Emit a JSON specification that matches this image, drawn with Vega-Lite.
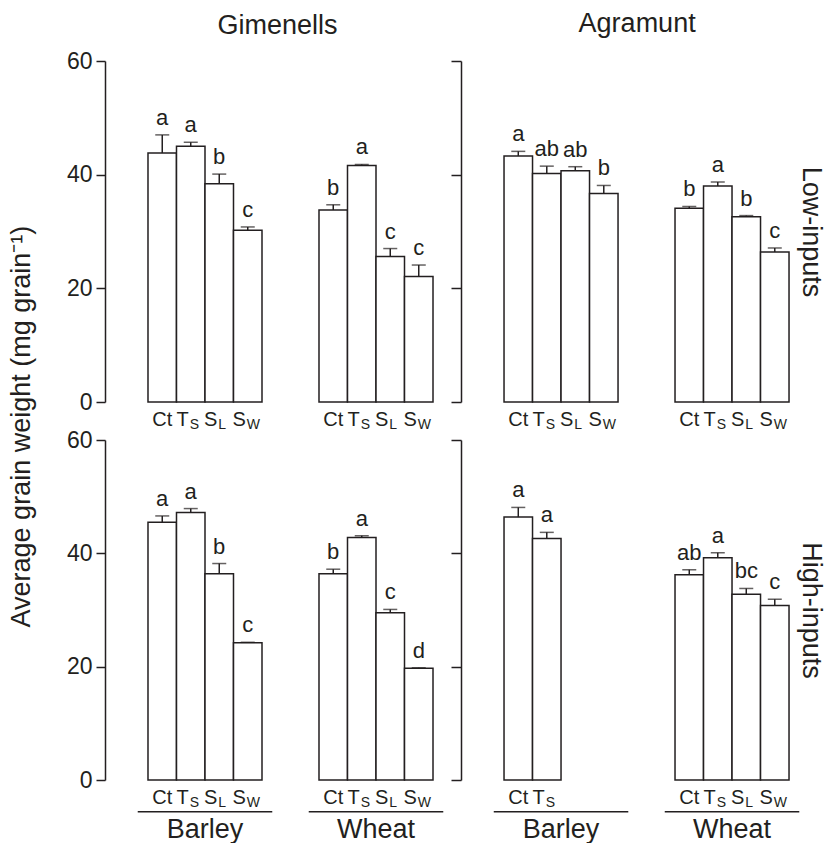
{
  "$schema": "https://vega.github.io/schema/vega-lite/v6.json",
  "padding": {"left": 8, "top": 10, "right": 4, "bottom": 0},
  "config": {
    "view": {"stroke": null},
    "font": "Liberation Sans",
    "axis": {"domainColor": "#231f20", "tickColor": "#231f20", "labelColor": "#231f20", "grid": false, "domainWidth": 1.5, "tickWidth": 1.5, "labelFont": "Liberation Sans"},
    "text": {"color": "#231f20", "font": "Liberation Sans"},
    "title": {"color": "#231f20", "fontWeight": "normal", "fontSize": 27, "font": "Liberation Sans"}
  },
  "title": {"text": "Average grain weight (mg grain⁻¹)", "orient": "left", "anchor": "middle", "offset": 30},
  "data": {"values": [
    {"site": "Gimenells", "input": "Low", "crop": "Barley", "trt": "Ct", "lab": "Ct", "sub": "", "mean": 43.8, "err": 47.0, "letter": "a"},
    {"site": "Gimenells", "input": "Low", "crop": "Barley", "trt": "TS", "lab": "T", "sub": "S", "mean": 45.0, "err": 45.7, "letter": "a"},
    {"site": "Gimenells", "input": "Low", "crop": "Barley", "trt": "SL", "lab": "S", "sub": "L", "mean": 38.4, "err": 40.1, "letter": "b"},
    {"site": "Gimenells", "input": "Low", "crop": "Barley", "trt": "SW", "lab": "S", "sub": "W", "mean": 30.2, "err": 30.8, "letter": "c"},
    {"site": "Gimenells", "input": "Low", "crop": "Wheat", "trt": "Ct", "lab": "Ct", "sub": "", "mean": 33.8, "err": 34.7, "letter": "b"},
    {"site": "Gimenells", "input": "Low", "crop": "Wheat", "trt": "TS", "lab": "T", "sub": "S", "mean": 41.6, "err": 41.8, "letter": "a"},
    {"site": "Gimenells", "input": "Low", "crop": "Wheat", "trt": "SL", "lab": "S", "sub": "L", "mean": 25.6, "err": 27.0, "letter": "c"},
    {"site": "Gimenells", "input": "Low", "crop": "Wheat", "trt": "SW", "lab": "S", "sub": "W", "mean": 22.1, "err": 24.1, "letter": "c"},
    {"site": "Agramunt", "input": "Low", "crop": "Barley", "trt": "Ct", "lab": "Ct", "sub": "", "mean": 43.3, "err": 44.1, "letter": "a"},
    {"site": "Agramunt", "input": "Low", "crop": "Barley", "trt": "TS", "lab": "T", "sub": "S", "mean": 40.2, "err": 41.5, "letter": "ab"},
    {"site": "Agramunt", "input": "Low", "crop": "Barley", "trt": "SL", "lab": "S", "sub": "L", "mean": 40.7, "err": 41.4, "letter": "ab"},
    {"site": "Agramunt", "input": "Low", "crop": "Barley", "trt": "SW", "lab": "S", "sub": "W", "mean": 36.7, "err": 38.1, "letter": "b"},
    {"site": "Agramunt", "input": "Low", "crop": "Wheat", "trt": "Ct", "lab": "Ct", "sub": "", "mean": 34.1, "err": 34.4, "letter": "b"},
    {"site": "Agramunt", "input": "Low", "crop": "Wheat", "trt": "TS", "lab": "T", "sub": "S", "mean": 38.0, "err": 38.7, "letter": "a"},
    {"site": "Agramunt", "input": "Low", "crop": "Wheat", "trt": "SL", "lab": "S", "sub": "L", "mean": 32.6, "err": 32.8, "letter": "b"},
    {"site": "Agramunt", "input": "Low", "crop": "Wheat", "trt": "SW", "lab": "S", "sub": "W", "mean": 26.4, "err": 27.1, "letter": "c"},
    {"site": "Gimenells", "input": "High", "crop": "Barley", "trt": "Ct", "lab": "Ct", "sub": "", "mean": 45.5, "err": 46.6, "letter": "a"},
    {"site": "Gimenells", "input": "High", "crop": "Barley", "trt": "TS", "lab": "T", "sub": "S", "mean": 47.2, "err": 47.9, "letter": "a"},
    {"site": "Gimenells", "input": "High", "crop": "Barley", "trt": "SL", "lab": "S", "sub": "L", "mean": 36.4, "err": 38.2, "letter": "b"},
    {"site": "Gimenells", "input": "High", "crop": "Barley", "trt": "SW", "lab": "S", "sub": "W", "mean": 24.2, "err": 24.3, "letter": "c"},
    {"site": "Gimenells", "input": "High", "crop": "Wheat", "trt": "Ct", "lab": "Ct", "sub": "", "mean": 36.4, "err": 37.2, "letter": "b"},
    {"site": "Gimenells", "input": "High", "crop": "Wheat", "trt": "TS", "lab": "T", "sub": "S", "mean": 42.8, "err": 43.1, "letter": "a"},
    {"site": "Gimenells", "input": "High", "crop": "Wheat", "trt": "SL", "lab": "S", "sub": "L", "mean": 29.5, "err": 30.1, "letter": "c"},
    {"site": "Gimenells", "input": "High", "crop": "Wheat", "trt": "SW", "lab": "S", "sub": "W", "mean": 19.7, "err": 19.8, "letter": "d"},
    {"site": "Agramunt", "input": "High", "crop": "Barley", "trt": "Ct", "lab": "Ct", "sub": "", "mean": 46.4, "err": 48.1, "letter": "a"},
    {"site": "Agramunt", "input": "High", "crop": "Barley", "trt": "TS", "lab": "T", "sub": "S", "mean": 42.6, "err": 43.7, "letter": "a"},
    {"site": "Agramunt", "input": "High", "crop": "Wheat", "trt": "Ct", "lab": "Ct", "sub": "", "mean": 36.2, "err": 37.1, "letter": "ab"},
    {"site": "Agramunt", "input": "High", "crop": "Wheat", "trt": "TS", "lab": "T", "sub": "S", "mean": 39.2, "err": 40.1, "letter": "a"},
    {"site": "Agramunt", "input": "High", "crop": "Wheat", "trt": "SL", "lab": "S", "sub": "L", "mean": 32.8, "err": 33.8, "letter": "bc"},
    {"site": "Agramunt", "input": "High", "crop": "Wheat", "trt": "SW", "lab": "S", "sub": "W", "mean": 30.8, "err": 31.9, "letter": "c"}
  ]},
  "vconcat": [
    {
      "spacing": 0,
      "hconcat": [
        {
          "width": 345, "height": 341,
          "title": {"text": "Gimenells", "frame": "group", "offset": 10},
          "transform": [{"filter": "datum.site == 'Gimenells' && datum.input == 'Low'"}],
          "encoding": {"x": {"field": "crop", "type": "nominal", "scale": {"domain": ["Barley", "Wheat"], "paddingInner": 0.3333, "paddingOuter": 0.1754, "align": 0.7167}, "axis": null}},
          "layer": [
            {"mark": {"type": "bar", "fill": "white", "stroke": "#231f20", "strokeWidth": 1.5},
             "encoding": {"xOffset": {"field": "trt", "type": "nominal", "scale": {"domain": ["Ct", "TS", "SL", "SW"], "paddingInner": 0, "paddingOuter": 0}},
               "y": {"field": "mean", "type": "quantitative", "scale": {"domain": [0, 60], "nice": false}, "axis": {"values": [0, 20, 40, 60], "title": null, "tickSize": 9, "labelFontSize": 23, "labelPadding": 4}}}},
            {"mark": {"type": "rule", "color": "#231f20", "strokeWidth": 1.5},
             "encoding": {"xOffset": {"field": "trt", "type": "nominal"}, "y": {"field": "mean", "type": "quantitative"}, "y2": {"field": "err"}}},
            {"mark": {"type": "tick", "color": "#231f20", "thickness": 1.5, "size": 14},
             "encoding": {"xOffset": {"field": "trt", "type": "nominal"}, "y": {"field": "err", "type": "quantitative"}}},
            {"mark": {"type": "text", "fontSize": 22, "dy": -10, "baseline": "alphabetic"},
             "encoding": {"xOffset": {"field": "trt", "type": "nominal"}, "y": {"field": "err", "type": "quantitative"}, "text": {"field": "letter"}}},
            {"transform": [{"filter": "datum.sub == ''"}],
             "mark": {"type": "text", "fontSize": 20, "dy": 24, "baseline": "alphabetic"},
             "encoding": {"xOffset": {"field": "trt", "type": "nominal"}, "y": {"datum": 0, "type": "quantitative"}, "text": {"field": "lab"}}},
            {"transform": [{"filter": "datum.sub != ''"}],
             "mark": {"type": "text", "fontSize": 20, "dy": 24, "dx": -2, "align": "right", "baseline": "alphabetic"},
             "encoding": {"xOffset": {"field": "trt", "type": "nominal"}, "y": {"datum": 0, "type": "quantitative"}, "text": {"field": "lab"}}},
            {"transform": [{"filter": "datum.sub != ''"}],
             "mark": {"type": "text", "fontSize": 14, "dy": 27, "dx": -1, "align": "left", "baseline": "alphabetic"},
             "encoding": {"xOffset": {"field": "trt", "type": "nominal"}, "y": {"datum": 0, "type": "quantitative"}, "text": {"field": "sub"}}}
          ]
        },
        {
          "width": 330, "height": 341,
          "title": {"text": "Agramunt", "frame": "bounds", "offset": 22},
          "transform": [{"filter": "datum.site == 'Agramunt' && datum.input == 'Low'"}],
          "encoding": {"x": {"field": "crop", "type": "nominal", "scale": {"domain": ["Barley", "Wheat"], "paddingInner": 0.3333, "paddingOuter": 0.1316, "align": 0.956}, "axis": null}},
          "resolve": {"scale": {"y": "independent"}},
          "layer": [
            {"layer": [
              {"mark": {"type": "bar", "fill": "white", "stroke": "#231f20", "strokeWidth": 1.5},
               "encoding": {"xOffset": {"field": "trt", "type": "nominal", "scale": {"domain": ["Ct", "TS", "SL", "SW"], "paddingInner": 0, "paddingOuter": 0}},
                 "y": {"field": "mean", "type": "quantitative", "scale": {"domain": [0, 60], "nice": false}, "axis": {"values": [0, 20, 40, 60], "title": null, "tickSize": 10, "labels": false}}}},
              {"mark": {"type": "rule", "color": "#231f20", "strokeWidth": 1.5},
               "encoding": {"xOffset": {"field": "trt", "type": "nominal"}, "y": {"field": "mean", "type": "quantitative"}, "y2": {"field": "err"}}},
              {"mark": {"type": "tick", "color": "#231f20", "thickness": 1.5, "size": 14},
               "encoding": {"xOffset": {"field": "trt", "type": "nominal"}, "y": {"field": "err", "type": "quantitative"}}},
              {"mark": {"type": "text", "fontSize": 22, "dy": -10, "baseline": "alphabetic"},
               "encoding": {"xOffset": {"field": "trt", "type": "nominal"}, "y": {"field": "err", "type": "quantitative"}, "text": {"field": "letter"}}},
              {"transform": [{"filter": "datum.sub == ''"}],
               "mark": {"type": "text", "fontSize": 20, "dy": 24, "baseline": "alphabetic"},
               "encoding": {"xOffset": {"field": "trt", "type": "nominal"}, "y": {"datum": 0, "type": "quantitative"}, "text": {"field": "lab"}}},
              {"transform": [{"filter": "datum.sub != ''"}],
               "mark": {"type": "text", "fontSize": 20, "dy": 24, "dx": -2, "align": "right", "baseline": "alphabetic"},
               "encoding": {"xOffset": {"field": "trt", "type": "nominal"}, "y": {"datum": 0, "type": "quantitative"}, "text": {"field": "lab"}}},
              {"transform": [{"filter": "datum.sub != ''"}],
               "mark": {"type": "text", "fontSize": 14, "dy": 27, "dx": -1, "align": "left", "baseline": "alphabetic"},
               "encoding": {"xOffset": {"field": "trt", "type": "nominal"}, "y": {"datum": 0, "type": "quantitative"}, "text": {"field": "sub"}}}
            ]},
            {"mark": {"type": "tick", "opacity": 0},
             "encoding": {"y": {"field": "mean", "type": "quantitative", "scale": {"domain": [0, 60], "nice": false},
               "axis": {"orient": "right", "title": "Low-inputs", "titleAngle": 90, "titleFontSize": 27, "titleFontWeight": "normal", "titleColor": "#231f20", "titlePadding": 5, "domain": false, "ticks": false, "labels": false}}}}
          ]
        }
      ]
    },
    {
      "spacing": 0,
      "hconcat": [
        {
          "width": 345, "height": 340,
          "transform": [{"filter": "datum.site == 'Gimenells' && datum.input == 'High'"}],
          "encoding": {"x": {"field": "crop", "type": "nominal", "scale": {"domain": ["Barley", "Wheat"], "paddingInner": 0.3333, "paddingOuter": 0.1754, "align": 0.7167}, "axis": null}},
          "layer": [
            {"mark": {"type": "bar", "fill": "white", "stroke": "#231f20", "strokeWidth": 1.5},
             "encoding": {"xOffset": {"field": "trt", "type": "nominal", "scale": {"domain": ["Ct", "TS", "SL", "SW"], "paddingInner": 0, "paddingOuter": 0}},
               "y": {"field": "mean", "type": "quantitative", "scale": {"domain": [0, 60], "nice": false}, "axis": {"values": [0, 20, 40, 60], "title": null, "tickSize": 9, "labelFontSize": 23, "labelPadding": 4}}}},
            {"mark": {"type": "rule", "color": "#231f20", "strokeWidth": 1.5},
             "encoding": {"xOffset": {"field": "trt", "type": "nominal"}, "y": {"field": "mean", "type": "quantitative"}, "y2": {"field": "err"}}},
            {"mark": {"type": "tick", "color": "#231f20", "thickness": 1.5, "size": 14},
             "encoding": {"xOffset": {"field": "trt", "type": "nominal"}, "y": {"field": "err", "type": "quantitative"}}},
            {"mark": {"type": "text", "fontSize": 22, "dy": -10, "baseline": "alphabetic"},
             "encoding": {"xOffset": {"field": "trt", "type": "nominal"}, "y": {"field": "err", "type": "quantitative"}, "text": {"field": "letter"}}},
            {"transform": [{"filter": "datum.sub == ''"}],
             "mark": {"type": "text", "fontSize": 20, "dy": 24, "baseline": "alphabetic"},
             "encoding": {"xOffset": {"field": "trt", "type": "nominal"}, "y": {"datum": 0, "type": "quantitative"}, "text": {"field": "lab"}}},
            {"transform": [{"filter": "datum.sub != ''"}],
             "mark": {"type": "text", "fontSize": 20, "dy": 24, "dx": -2, "align": "right", "baseline": "alphabetic"},
             "encoding": {"xOffset": {"field": "trt", "type": "nominal"}, "y": {"datum": 0, "type": "quantitative"}, "text": {"field": "lab"}}},
            {"transform": [{"filter": "datum.sub != ''"}],
             "mark": {"type": "text", "fontSize": 14, "dy": 27, "dx": -1, "align": "left", "baseline": "alphabetic"},
             "encoding": {"xOffset": {"field": "trt", "type": "nominal"}, "y": {"datum": 0, "type": "quantitative"}, "text": {"field": "sub"}}},
            {"transform": [{"filter": "datum.trt == 'Ct'"}],
             "mark": {"type": "rule", "color": "#231f20", "strokeWidth": 1.5},
             "encoding": {"x": {"field": "crop", "type": "nominal", "bandPosition": -0.09}, "x2": {"field": "crop", "bandPosition": 1.09}, "y": {"datum": -5.6, "type": "quantitative"}}},
            {"transform": [{"filter": "datum.trt == 'Ct'"}],
             "mark": {"type": "text", "fontSize": 27, "dy": 58, "baseline": "alphabetic"},
             "encoding": {"y": {"datum": 0, "type": "quantitative"}, "text": {"field": "crop"}}}
          ]
        },
        {
          "width": 330, "height": 340,
          "transform": [{"filter": "datum.site == 'Agramunt' && datum.input == 'High'"}],
          "encoding": {"x": {"field": "crop", "type": "nominal", "scale": {"domain": ["Barley", "Wheat"], "paddingInner": 0.3333, "paddingOuter": 0.1316, "align": 0.956}, "axis": null}},
          "resolve": {"scale": {"y": "independent"}},
          "layer": [
            {"layer": [
              {"mark": {"type": "bar", "fill": "white", "stroke": "#231f20", "strokeWidth": 1.5},
               "encoding": {"xOffset": {"field": "trt", "type": "nominal", "scale": {"domain": ["Ct", "TS", "SL", "SW"], "paddingInner": 0, "paddingOuter": 0}},
                 "y": {"field": "mean", "type": "quantitative", "scale": {"domain": [0, 60], "nice": false}, "axis": {"values": [0, 20, 40, 60], "title": null, "tickSize": 10, "labels": false}}}},
              {"mark": {"type": "rule", "color": "#231f20", "strokeWidth": 1.5},
               "encoding": {"xOffset": {"field": "trt", "type": "nominal"}, "y": {"field": "mean", "type": "quantitative"}, "y2": {"field": "err"}}},
              {"mark": {"type": "tick", "color": "#231f20", "thickness": 1.5, "size": 14},
               "encoding": {"xOffset": {"field": "trt", "type": "nominal"}, "y": {"field": "err", "type": "quantitative"}}},
              {"mark": {"type": "text", "fontSize": 22, "dy": -10, "baseline": "alphabetic"},
               "encoding": {"xOffset": {"field": "trt", "type": "nominal"}, "y": {"field": "err", "type": "quantitative"}, "text": {"field": "letter"}}},
              {"transform": [{"filter": "datum.sub == ''"}],
               "mark": {"type": "text", "fontSize": 20, "dy": 24, "baseline": "alphabetic"},
               "encoding": {"xOffset": {"field": "trt", "type": "nominal"}, "y": {"datum": 0, "type": "quantitative"}, "text": {"field": "lab"}}},
              {"transform": [{"filter": "datum.sub != ''"}],
               "mark": {"type": "text", "fontSize": 20, "dy": 24, "dx": -2, "align": "right", "baseline": "alphabetic"},
               "encoding": {"xOffset": {"field": "trt", "type": "nominal"}, "y": {"datum": 0, "type": "quantitative"}, "text": {"field": "lab"}}},
              {"transform": [{"filter": "datum.sub != ''"}],
               "mark": {"type": "text", "fontSize": 14, "dy": 27, "dx": -1, "align": "left", "baseline": "alphabetic"},
               "encoding": {"xOffset": {"field": "trt", "type": "nominal"}, "y": {"datum": 0, "type": "quantitative"}, "text": {"field": "sub"}}},
              {"transform": [{"filter": "datum.trt == 'Ct'"}],
               "mark": {"type": "rule", "color": "#231f20", "strokeWidth": 1.5},
               "encoding": {"x": {"field": "crop", "type": "nominal", "bandPosition": -0.09}, "x2": {"field": "crop", "bandPosition": 1.09}, "y": {"datum": -5.6, "type": "quantitative"}}},
              {"transform": [{"filter": "datum.trt == 'Ct'"}],
               "mark": {"type": "text", "fontSize": 27, "dy": 58, "baseline": "alphabetic"},
               "encoding": {"y": {"datum": 0, "type": "quantitative"}, "text": {"field": "crop"}}}
            ]},
            {"mark": {"type": "tick", "opacity": 0},
             "encoding": {"y": {"field": "mean", "type": "quantitative", "scale": {"domain": [0, 60], "nice": false},
               "axis": {"orient": "right", "title": "High-inputs", "titleAngle": 90, "titleFontSize": 27, "titleFontWeight": "normal", "titleColor": "#231f20", "titlePadding": 5, "domain": false, "ticks": false, "labels": false}}}}
          ]
        }
      ]
    }
  ],
  "spacing": -3
}
